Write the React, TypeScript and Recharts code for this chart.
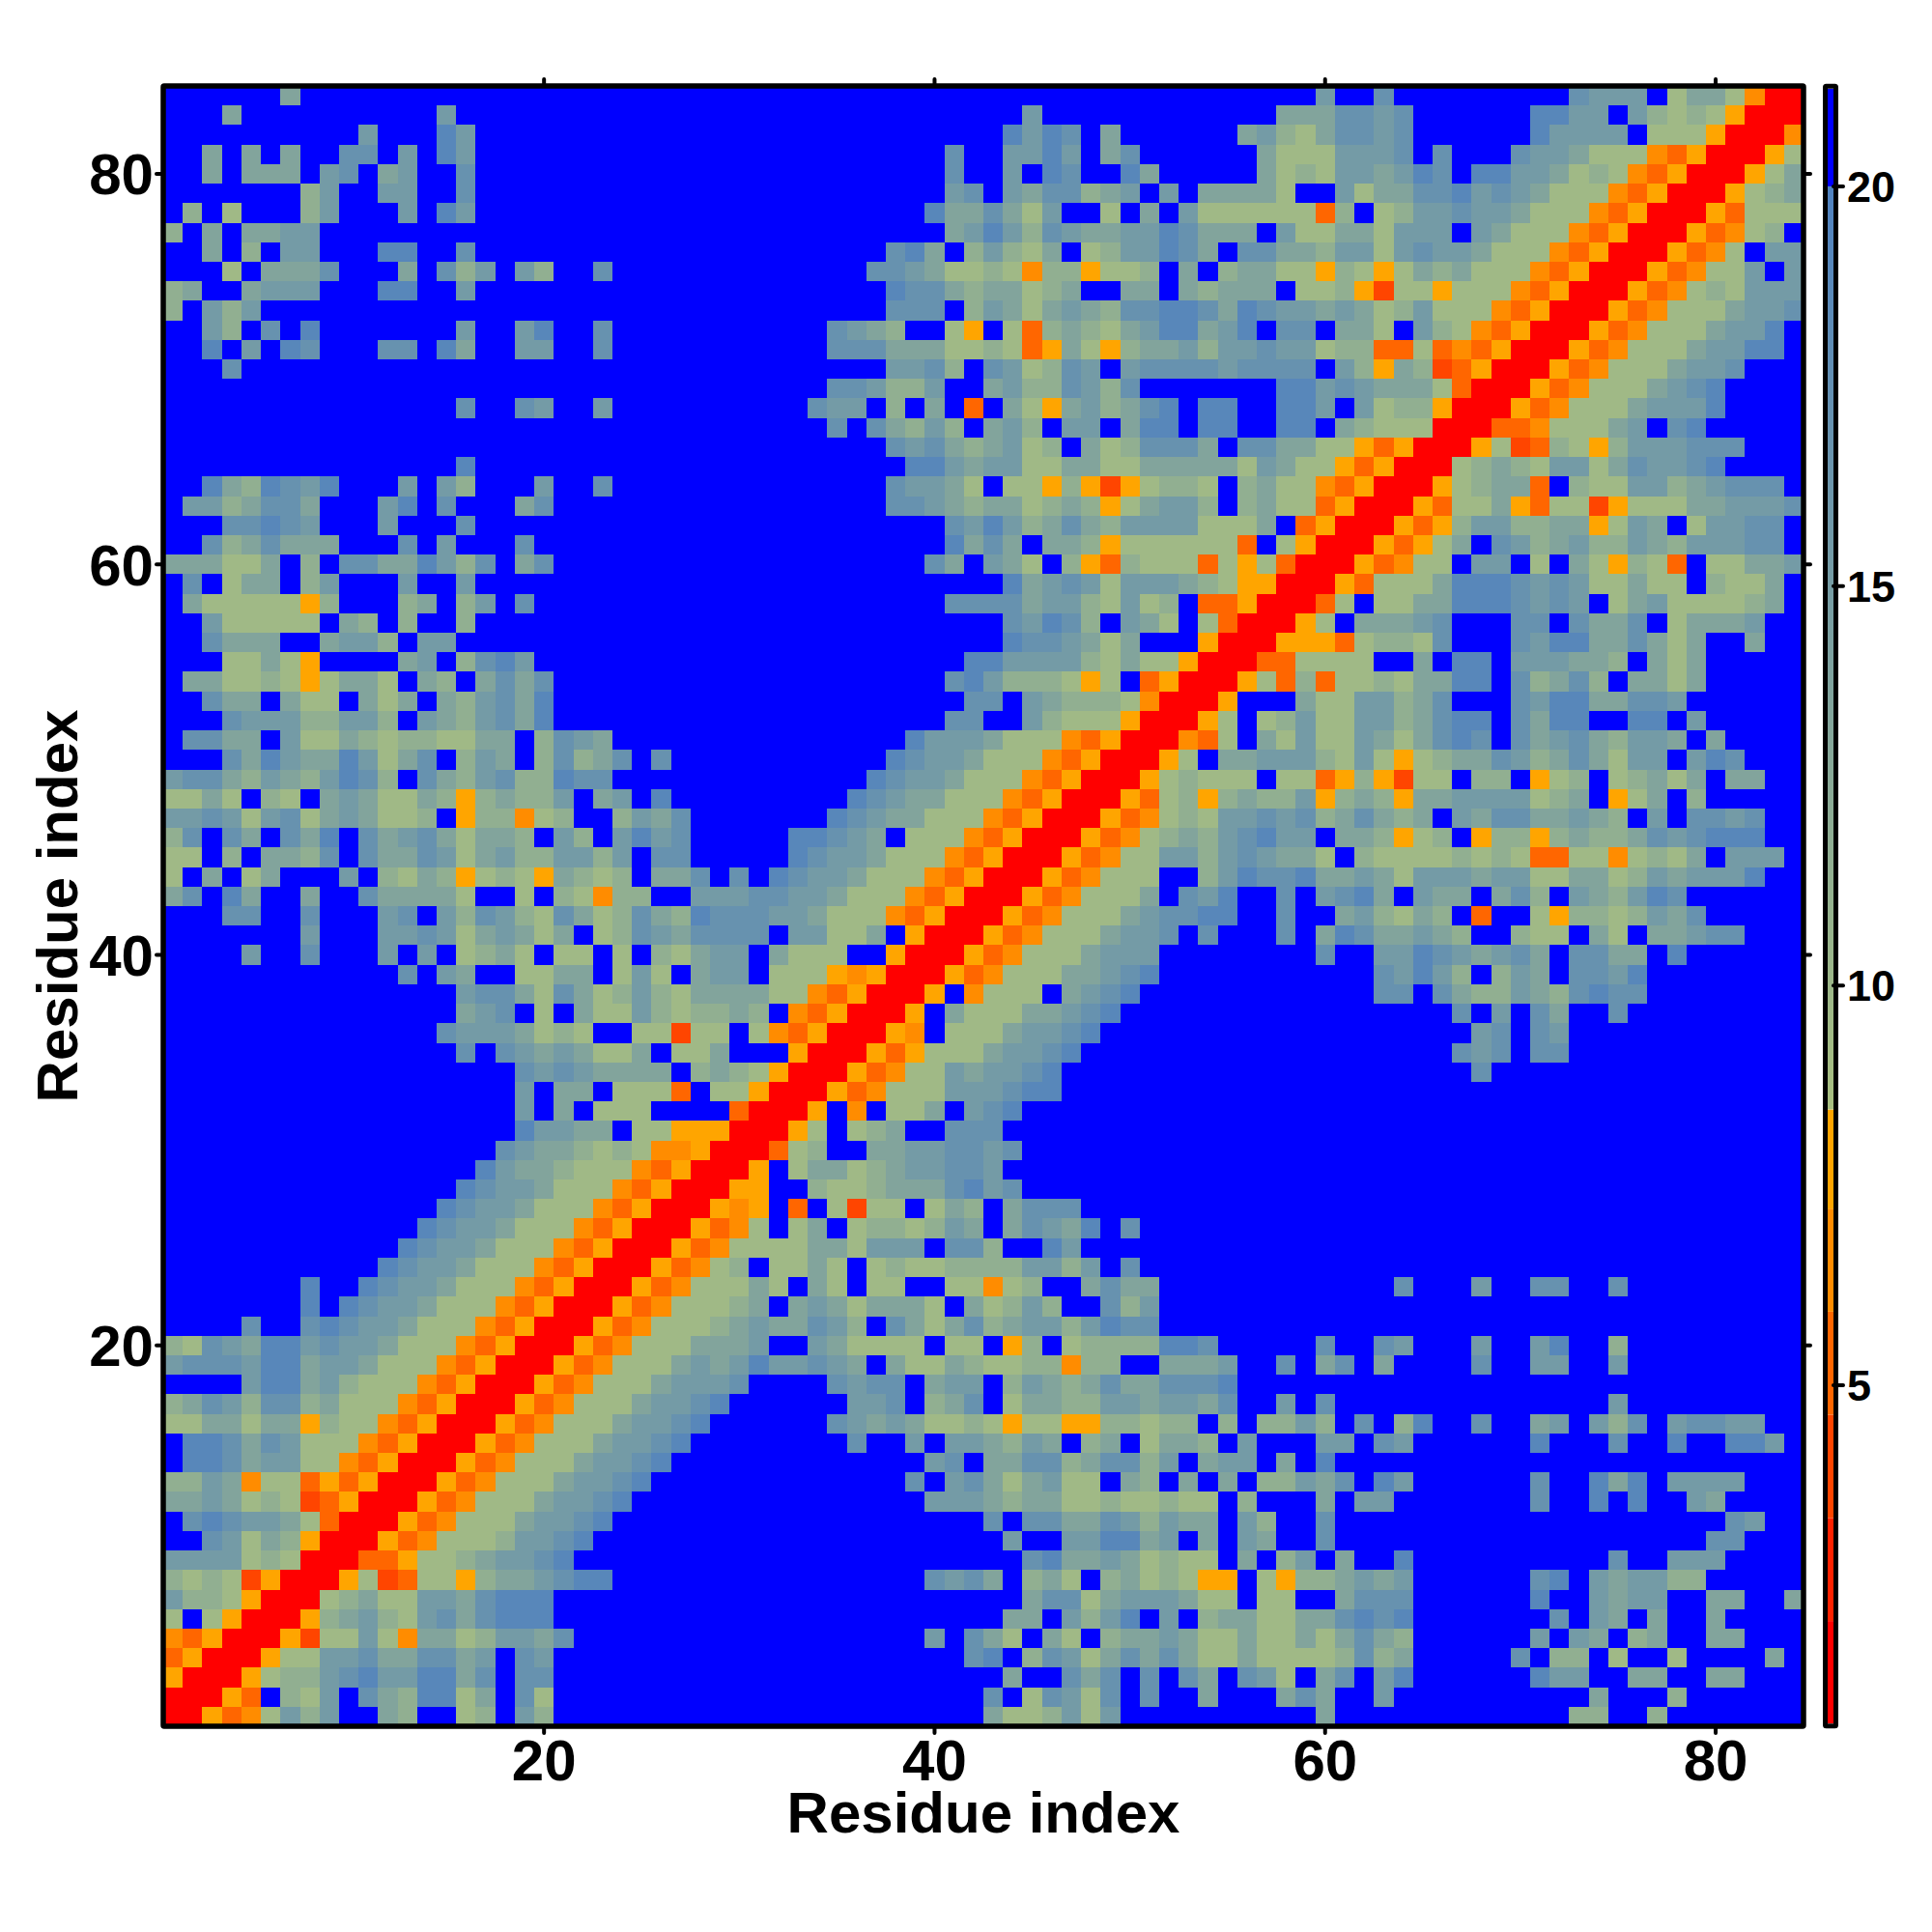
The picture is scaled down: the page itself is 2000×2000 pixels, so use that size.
import { Label, ReferenceArea, Scatter, ScatterChart, XAxis, YAxis } from "recharts";

// Residue distance map, symmetric, so only x >= y is stored.
// Each letter is one distance band, see bandValue.
const bandValue: Record<string, number> = {
  r: 1.4, p: 4, o: 5.3, n: 6.6, m: 7.9,
  a: 9.5, b: 11.5, c: 13.5, d: 15.3, e: 17, f: 19, ".": 21,
};

// rows 1-28, columns y..28
const rows1Near = [
  "rrmonadbd..cb..ab.db........", "rrmo.bad.ecbffac.ea........", "rrmabbdefddffce.ee........",
  "rrmaaddecceecd.ed........", "rrmpaadanccabddce.......", "rrmbcdbadecefff........",
  "rrabcaaddcefff........", "rrmapoaambccdeff.....", "rroomaabcddef.......",
  "rrmonaaabddef......", "rrmonaaacddef.....", "rrmonaaacddef....",
  "rrmonaaacddef...", "rrmonaaacddef..", "rrmonaaacddef.",
  "rrmonaaacddef", "rrmonaaacdde", "rrmonaaacdd", "rrmonaaacd", "rrmonaaac",
  "rrmonaaa", "rrmonaa", "rrmona", "rrmon", "rrmo", "rrm", "rr", "r",
];

// rows 1-28, columns 29..56
const rows1Mid = [
  "..............caabdad.......", "..............e.aedae.e..c..", "...............c..ece.e.ec.e",
  ".............ef.bedacececaac", "...........d.eca.ca.bccdcaac", "...............cc.dbdf.d.bcc",
  "................ceeacdddcaa.", "...........edec.bca.bcabamm.", "................efccdcabaa.c",
  "...............d..ddffcd.c.d", "..............e.eeccedbdcc.d", "...........dddcbccaabaabaa.b",
  "..........e.decacdaa.cb.c.c.", "...........de.cceebceebd.cdd", ".......e..d.ddcbdc.bc.accb.d",
  "......edcdcaabamaammbbabb.b.", "f......dde.bce.accbbddcddce.", "de....edee.cdd.bdcbcecceeef.",
  "cdfddedc.caacbaabbnbb..cccd.", "ccd..dcaaaa.aa.mb.abbbbffe..", "bcdccedb.ecacebcddbdfee.....",
  "abc.cdcaccca.cabdb..ebd.....", "aaca.ca.aa..aanab..cecc.....", "ab.aaca.abaabbbbddbd.e......",
  "naaaaccaddd.eeb..fd.........", "ona.ac.abbabdc.cedcf.e......", "mnm.o.apaa.acb.ceee.........",
  "rmm..baabcccefde............",
];

// rows 1-28, columns 57..84
const rows1Far = [
  "...c............bb..b.......", ".cec..d..........c...b......", "da.ce.df......fdd..cc..cc...",
  "aaaabebc.....e.bb.a..a....c.", "aacacecb......d.dc.bc..cc...", "aaccefef.......e.dc.c..c....",
  "aa..ceee......f..dcdd..cc..c", "ambbcdcd......ef.dcddbb.....", ".bd.c..f..........e..ddd....",
  "c..e...................ee...", "b..e....................ed..", "...c.dd.......e..f.f..dc....",
  "bbdce.fd......e..fcf.dddd...", ".c.f........................", "...dd.ed......f...e..f..ffd.",
  "bbdb.e.bf..e..cd.dbe.deedd..", ".d.e..............d.........", "............................",
  ".e.ce.c....e..dd..d.........", "...e..ed...d..df..b.........", "............................",
  "............................", ".......e...d..ee..e.........", "............................",
  "............................", "............................", "............................",
  "............................",
];

// rows 29-56, columns y..56
const rows2Mid = [
  "rrm.accabcddeed.............", "rroab..ccddeede............", "rrma.abc..eee.............",
  "rrm.n.aac.def............", "rrmonaaadddeff..........", "rrmonaadcddef..........",
  "rrmomaaacddef.........", "rrmn.aaacddef........", "rrm.caaaccdef.......",
  "rrm.naaa.cdef......", "rrmonaaaccdef.....", "rrmonaaacddd.....",
  "rrmonaaacdde.e..", "rrmonaaacdeeff.", "rrmonaaac.edf.", "rrmonaaa..bdf",
  "rrmonaaddbde", "rrmonabcbde", "rrmonabadd", "rrmoabmbc", "rrmabaaa", "rrma.cc",
  "rrnoa.", "rrma.", "rrm.", "rrm", "rr", "r",
];

// rows 29-56, columns 57..84
const rows2Far = [
  "............................", "............................", "............................",
  "............................", "............................", "...........e................",
  "..........ede.ee............", "...........de.ed............", "..........e.d.ec..e.........",
  "......ee.ecbbdcbefee........", "......edfdb.bdc.eedf........", "...e..ddfedcdec.eecc.f......",
  ".e.cfeccdcb..baa.ca.ccdee...", ".e..cdbacb.o..ambbabdce.....", ".e.defc.dcc.ceb.dcbdfe......",
  "eefccdcadddcddaaccabdcdddf..", "dcca.baaaababaooaanabac.ddd.", "fdd.ccbmab.mbbmbcbbcedefff..",
  "edebcecbc.dceeccdcb.d.eede..", "bbdmbcbmccddddabc.mac.b.....", ".aaombmpaa.bb.mab.abcac.cc..",
  "dddbadamabccedbcecadd.dfe...", "cadaadcacefe.ecdecbddc.c....", "abdaaddbceff.ecff..ff.d.....",
  "..caaddbce...edffcceed......", "aoboaabaccff.ebceb.ccac.....", "ooaaaa..c.ff.dddccb.cac.....",
  "rmmmoabbae...edffccecac..c..",
];

// rows 57-84, columns y..84
const rows3Far = [
  "rrma.cccde...ee.ecce.acccd..", "rroa.aaccfffeded.acdaaaabc.", "rrmoaaacfffededaacaa.baac.",
  "rrmonaa.dd.a.cambao.aaccd", "rrmomac.edbcdbbdcbdddee.", "rrmombddbbccmadc.addee.",
  "rrmoaacmoaapmaaaccddde", "rrmabcco.baaddbcdeee.", "rrabcbaddaceddef....",
  "rrmapobambdddeee...", "rroonaaacd.ef.....", "rrmonaaacdddf....",
  "rrmonaaacdef....", "rrmonaaacdde...", "rrmonaaacddff.", "rrmonaaacddf.",
  "rrmonaaacdde", "rrmonabaddd", "rrmonaad.d", "rrmona.dd", "rrmonab.", "rrmoaaa",
  "rrmabc", "rrmac", "rrma", "rrn", "rr", "r",
];

const axisTicks = [20, 40, 60, 80];
const barTicks = [5, 10, 15, 20];
const barBands = [
  { lo: 0.77, hi: 2.05, color: "#ff0000" },
  { lo: 2.05, hi: 3.34, color: "#ff2200" },
  { lo: 3.34, hi: 4.63, color: "#ff4500" },
  { lo: 4.63, hi: 5.92, color: "#ff6600" },
  { lo: 5.92, hi: 7.21, color: "#ff8c00" },
  { lo: 7.21, hi: 8.45, color: "#ffa500" },
  { lo: 8.45, hi: 20, color: "url(#distRamp)" },
  { lo: 20, hi: 21.22, color: "#0000ff" },
];

const rampLow = [168, 191, 128];
const rampHigh = [80, 130, 192];

function distColor(v: number) {
  if (v >= 20) return "#0000ff";
  if (v >= 8.45) {
    const t = (v - 8.45) / (20 - 8.45);
    const c = rampLow.map((l, i) => Math.round(l + (rampHigh[i] - l) * t));
    return `rgb(${c[0]},${c[1]},${c[2]})`;
  }
  const band = barBands.find((b) => v < b.hi);
  return band ? band.color : "#ffa500";
}

const stored = [
  ...rows1Near.map((s, i) => s + rows1Mid[i] + rows1Far[i]),
  ...rows2Mid.map((s, i) => s + rows2Far[i]),
  ...rows3Far,
];

const cells: { x: number; y: number; d: number }[] = [];
stored.forEach((row, i) => {
  const y = i + 1;
  Array.from(row).forEach((ch, k) => {
    const x = y + k;
    const d = bandValue[ch];
    cells.push({ x, y, d });
    if (x !== y) cells.push({ x: y, y: x, d });
  });
});

const frameTicks = axisTicks.map((t) => ({ x: t, y: t }));
const barPoints = barTicks.map((t) => ({ x: 0.5, v: t }));

const font = "'Liberation Sans', Arial, sans-serif";
const PLOT = 1698;
const CELL = PLOT / 84;
const tickStyle = { fontFamily: font, fontWeight: 700, fontSize: 60, fill: "#000" };
const tickLine = { stroke: "#000", strokeWidth: 4, strokeLinecap: "round" as const };
const titleStyle = { fontFamily: font, fontWeight: 700, fontSize: 60, fill: "#000", textAnchor: "middle" as const };
const noText = () => "";
const noMark = () => <g />;

function CellRect(props: any) {
  const { cx, cy, payload } = props;
  return (
    <rect
      x={cx - CELL / 2}
      y={cy - CELL / 2}
      width={CELL}
      height={CELL}
      fill={distColor(payload.d)}
      shapeRendering="crispEdges"
    />
  );
}

export default function App() {
  return (
    <div style={{ position: "absolute", left: 0, top: 0, width: 2000, height: 2000, background: "#fff" }}>
      <div style={{ position: "absolute", left: 0, top: 0 }}>
        <ScatterChart width={1890} height={2000} margin={{ left: 0, right: 0, top: 0, bottom: 0 }}>
          <XAxis
            dataKey="x"
            type="number"
            domain={[0.5, 84.5]}
            ticks={axisTicks}
            interval={0}
            height={213}
            axisLine={false}
            tickLine={tickLine}
            tickSize={7}
            tickMargin={6}
            tick={tickStyle}
          >
            <Label value="Residue index" position="insideBottom" offset={103} style={titleStyle} />
          </XAxis>
          <XAxis
            xAxisId="top"
            dataKey="x"
            orientation="top"
            type="number"
            domain={[0.5, 84.5]}
            ticks={axisTicks}
            interval={0}
            height={89}
            axisLine={false}
            tickLine={tickLine}
            tickSize={7}
            tickFormatter={noText}
          />
          <YAxis
            dataKey="y"
            type="number"
            domain={[0.5, 84.5]}
            ticks={axisTicks}
            interval={0}
            width={169}
            axisLine={false}
            tickLine={tickLine}
            tickSize={7}
            tickMargin={3}
            tick={tickStyle}
          >
            <Label value="Residue index" position="insideLeft" angle={-90} offset={59} style={titleStyle} />
          </YAxis>
          <YAxis
            yAxisId="right"
            dataKey="y"
            orientation="right"
            type="number"
            domain={[0.5, 84.5]}
            ticks={axisTicks}
            interval={0}
            width={23}
            axisLine={false}
            tickLine={tickLine}
            tickSize={7}
            tickFormatter={noText}
          />
          <Scatter data={cells} shape={CellRect} isAnimationActive={false} />
          <Scatter xAxisId="top" yAxisId="right" data={frameTicks} shape={noMark} isAnimationActive={false} />
        </ScatterChart>
      </div>
      <div style={{ position: "absolute", left: 1880, top: 0 }}>
        <ScatterChart width={120} height={2000} margin={{ left: 12, right: 0, top: 92, bottom: 216 }}>
          <defs>
            <linearGradient id="distRamp" x1="0" y1="1" x2="0" y2="0">
              <stop offset="0%" stopColor={`rgb(${rampLow.join(",")})`} />
              <stop offset="100%" stopColor={`rgb(${rampHigh.join(",")})`} />
            </linearGradient>
          </defs>
          <XAxis type="number" dataKey="x" domain={[0, 1]} hide />
          <YAxis
            dataKey="v"
            orientation="right"
            type="number"
            domain={[0.77, 21.22]}
            ticks={barTicks}
            interval={0}
            width={102}
            axisLine={false}
            tickLine={tickLine}
            tickSize={10}
            tickMargin={4}
            tick={{ ...tickStyle, fontSize: 45 }}
          />
          <Scatter data={barPoints} shape={noMark} isAnimationActive={false} />
          {barBands.map((b) => (
            <ReferenceArea key={b.lo} y1={b.lo} y2={b.hi} fill={b.color} fillOpacity={1} stroke="none" ifOverflow="visible" />
          ))}
          <rect x={9.5} y={89.25} width={11} height={1697.5} rx={1} fill="none" stroke="#000" strokeWidth={5} />
        </ScatterChart>
      </div>
      {/* frame sits over the cells, the outer rows and columns are partly hidden by it */}
      <svg width={2000} height={2000} style={{ position: "absolute", left: 0, top: 0, pointerEvents: "none" }}>
        <rect x={169} y={89} width={1698} height={1698} rx={1} fill="none" stroke="#000" strokeWidth={5.5} />
      </svg>
    </div>
  );
}
